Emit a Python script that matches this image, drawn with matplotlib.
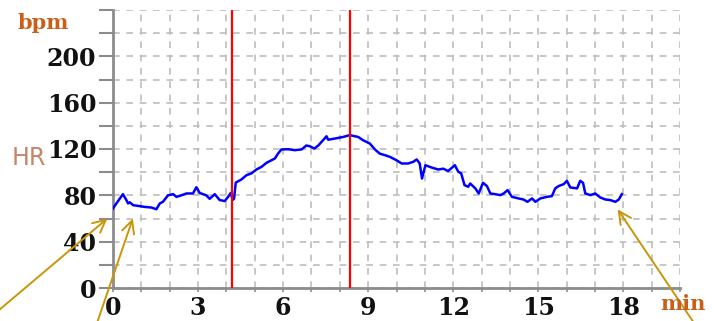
import matplotlib
matplotlib.use("Agg")
import matplotlib.pyplot as plt
from matplotlib.ticker import MultipleLocator

# Heart-rate trace (minutes, bpm)
time_min = [0.00, 0.12, 0.35, 0.47, 0.53, 0.59, 0.71, 0.94, 1.12, 1.35, 1.53, 1.65,
            1.76, 1.94, 2.12, 2.24, 2.41, 2.59, 2.82, 2.94, 3.06, 3.29, 3.41, 3.59,
            3.76, 3.94, 4.06, 4.15, 4.22, 4.27, 4.33, 4.53, 4.71, 4.88, 5.06, 5.24,
            5.41, 5.59, 5.71, 5.82, 5.94, 6.18, 6.41, 6.65, 6.82, 6.94, 7.10, 7.24,
            7.41, 7.53, 7.59, 7.82, 8.12, 8.35, 8.53, 8.65, 8.82, 9.06, 9.24, 9.41,
            9.59, 9.77, 10.00, 10.18, 10.41, 10.59, 10.71, 10.82, 10.90, 11.02, 11.24,
            11.47, 11.65, 11.82, 12.06, 12.18, 12.28, 12.40, 12.53, 12.60, 12.78, 12.90,
            13.05, 13.19, 13.31, 13.48, 13.66, 13.78, 13.92, 14.07, 14.31, 14.48, 14.62,
            14.78, 14.90, 15.07, 15.31, 15.48, 15.60, 15.72, 15.90, 16.01, 16.13, 16.37,
            16.48, 16.58, 16.66, 16.84, 17.01, 17.19, 17.37, 17.54, 17.72, 17.84, 17.95]
heart_rate = [68.7, 73.0, 81.0, 76.0, 73.0, 74.0, 71.5, 70.7, 70.0, 69.5, 68.0, 73.0,
              74.4, 80.0, 81.0, 78.7, 80.0, 81.6, 81.6, 87.0, 82.0, 80.0, 77.0, 81.0,
              76.0, 75.0, 78.7, 82.0, 76.0, 77.0, 91.0, 93.7, 97.4, 98.9, 102.3, 104.6,
              108.0, 110.3, 111.8, 116.0, 119.6, 119.8, 119.0, 119.6, 123.0, 122.4, 120.4, 123.0,
              127.6, 131.0, 128.0, 129.0, 130.4, 132.0, 131.0, 130.4, 127.6, 124.7, 119.6, 116.0,
              114.7, 113.2, 110.3, 107.5, 107.5, 108.9, 111.0, 107.5, 94.5, 106.0, 104.0,
              102.3, 103.0, 101.0, 106.0, 100.3, 99.0, 88.8, 87.4, 90.2, 86.0, 81.6,
              90.8, 88.0, 81.6, 81.0, 80.2, 81.6, 84.5, 78.7, 77.3, 76.4, 74.4,
              77.3, 74.4, 77.3, 78.7, 79.3, 86.0, 88.0, 89.7, 92.5, 86.8, 86.0,
              92.5, 90.8, 81.6, 80.2, 81.6, 78.1, 76.4, 75.9, 74.4, 76.4, 81.0]

markers_min = [4.2, 8.37]
x_ticks = [0, 3, 6, 9, 12, 15, 18]
y_ticks = [0, 40, 80, 120, 160, 200]

W, H = 714, 321
fig = plt.figure(figsize=(W / 100, H / 100), dpi=100)
ax = fig.add_axes([113 / W, (H - 288) / H, (680 - 113) / W, (288 - 10) / H])

ax.set_xlim(0, 20)
ax.set_ylim(0, 240)

ax.plot(time_min, heart_rate, color="#0000ff", lw=1.8, zorder=3)
for m in markers_min:
    ax.axvline(m, color="#ff0000", lw=1.6, zorder=4)

ax.grid(True, which="major", color="#bdbdbd", ls=(0, (4, 4)), lw=1.2)
ax.set_axisbelow(True)

ax.set_xticks(range(0, 21))
ax.set_xticklabels([str(v) if v in x_ticks else "" for v in range(0, 21)])
ax.set_yticks(range(0, 241, 20))
ax.set_yticklabels([str(v) if v in y_ticks else "" for v in range(0, 241, 20)])

for s in ["top", "right"]:
    ax.spines[s].set_visible(False)
for s in ["left", "bottom"]:
    ax.spines[s].set_color("#8c8c8c")
    ax.spines[s].set_linewidth(2)

ax.tick_params(axis="y", length=10, width=1.5, color="#8c8c8c", pad=2)
ax.tick_params(axis="x", length=3, width=1.2, color="#8c8c8c", pad=3)
for lab in ax.get_xticklabels() + ax.get_yticklabels():
    lab.set_fontfamily("DejaVu Serif")
    lab.set_fontweight("bold")
    lab.set_fontsize(17)
    lab.set_color("#111111")

fig.text(17 / W, 1 - 23 / H, "bpm", color="#c8601a", fontsize=15, fontweight="bold",
         family="DejaVu Serif", va="center", ha="left")
fig.text(12 / W, 1 - 158 / H, "HR", color="#c4866a", fontsize=17,
         family="DejaVu Sans", va="center", ha="left")
fig.text(660 / W, 1 - 304 / H, "min", color="#c8601a", fontsize=15, fontweight="bold",
         family="DejaVu Serif", va="center", ha="left")

arrow_color = "#c8960a"
arrows = [((-0.2, 60), (-8 / W, 1 - 316 / H)),
          ((0.7, 60), (97 / W, 1 - 323 / H)),
          ((17.8, 68), (694 / W, 1 - 323 / H))]
for tip, tail in arrows:
    ax.annotate("", xy=tip, xycoords="data", xytext=tail, textcoords="figure fraction",
                arrowprops=dict(arrowstyle="->,head_length=0.9,head_width=0.45",
                                color=arrow_color, lw=1.4, shrinkA=0, shrinkB=0),
                annotation_clip=False)

fig.savefig("out.png", dpi=100)
